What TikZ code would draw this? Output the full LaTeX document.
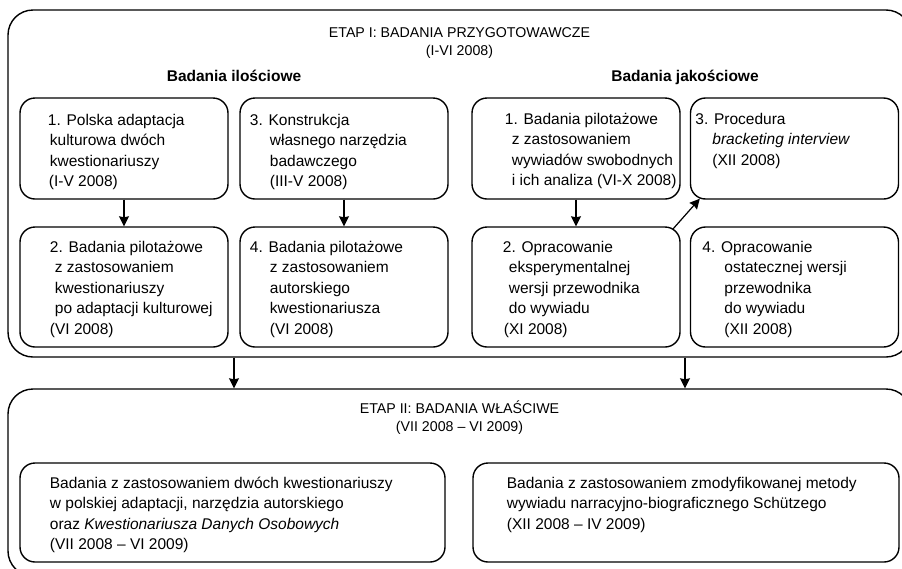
\documentclass[tikz,border=0pt]{standalone}
\usepackage{fontspec}
\setmainfont{Liberation Sans}
\usepackage{tikz}
\usetikzlibrary{arrows.meta}
\usetikzlibrary{positioning}
\newcommand{\lind}[1]{\hspace*{#1pt}}

\begin{document}
\begin{tikzpicture}[x=1pt,y=-1pt,-,>={Stealth[length=10pt,width=10pt,inset=1pt]},line width=1.2pt,
    etap box/.style={draw,rounded corners=25pt,line width=1.4pt,inner sep=0pt,minimum width=903pt},
    stage box/.style={draw,rounded corners=15pt,line width=1.4pt,inner sep=0pt,minimum width=208pt},
    box text/.style={anchor=north west,align=left,inner sep=0pt,font=\fontsize{15.5}{20.5}\selectfont},
    head text/.style={anchor=north,align=center,inner sep=0pt,font=\fontsize{14.2}{18}\selectfont},
    title text/.style={anchor=base,inner sep=0pt,font=\fontsize{15.5}{18}\selectfont\bfseries}]
      \useasboundingbox (0,0) rectangle (902,568);
      \clip (0,0) rectangle (902,568);

      % the two stages
      \node [etap box, minimum height=347pt] (etap1) at (459.5,183.5) {};
      \node [etap box, minimum height=187pt] (etap2) at (459.5,482.5) {};
      \node [head text] (etap1t) at (459.5,27) {ETAP I: BADANIA PRZYGOTOWAWCZE\\(I-VI 2008)};
      \node [head text] (etap2t) at (459.5,400) {ETAP II: BADANIA WŁAŚCIWE\\(VII 2008 – VI 2009)};
      \node [title text] (ilosc) at (234,81.5) {Badania ilościowe};
      \node [title text] (jakosc) at (685,81.5) {Badania jakościowe};

      \node [stage box, minimum height=101pt] (q1) at (124,148.5) {};
      \node [stage box, minimum height=101pt] (q3) at (344,148.5) {};
      \node [stage box, minimum height=101pt] (j1) at (576,148.5) {};
      \node [stage box, minimum height=101pt] (j3) at (794.5,148.5) {};
      \node [stage box, minimum height=120pt] (q2) at (124,287) {};
      \node [stage box, minimum height=120pt] (q4) at (344,287) {};
      \node [stage box, minimum height=120pt] (j2) at (576,287) {};
      \node [stage box, minimum height=120pt] (j4) at (794.5,287) {};
      \node [stage box, minimum height=99pt, minimum width=425pt] (b1) at (232.5,512.5) {};
      \node [stage box, minimum height=99pt, minimum width=426pt] (b2) at (686,512.5) {};

      \node [box text] (q1t) at ([shift={(28,16)}]q1.north west) {1. Polska adaptacja\\\lind{2}kulturowa dwóch\\\lind{2}kwestionariuszy\\\lind{1}(I-V 2008)};
      \node [box text] (q2t) at ([shift={(30,14)}]q2.north west) {2. Badania pilotażowe\\\lind{5}z zastosowaniem\\\lind{5}kwestionariuszy\\\lind{5}po adaptacji kulturowej\\(VI 2008)};
      \node [box text] (q3t) at ([shift={(10,16)}]q3.north west) {3. Konstrukcja\\\lind{20}własnego narzędzia\\\lind{20}badawczego\\\lind{20}(III-V 2008)};
      \node [box text] (q4t) at ([shift={(10,14)}]q4.north west) {4. Badania pilotażowe\\\lind{20}z zastosowaniem\\\lind{20}autorskiego\\\lind{20}kwestionariusza\\\lind{20}(VI 2008)};
      \node [box text] (j1t) at ([shift={(33,15)}]j1.north west) {1. Badania pilotażowe\\\lind{7}z zastosowaniem\\\lind{7}wywiadów swobodnych\\\lind{7}i ich analiza (VI-X 2008)};
      \node [box text] (j2t) at ([shift={(31,14)}]j2.north west) {2. Opracowanie\\\lind{6}eksperymentalnej\\\lind{6}wersji przewodnika\\\lind{6}do wywiadu\\\lind{1}(XI 2008)};
      \node [box text] (j3t) at ([shift={(5,15)}]j3.north west) {3. Procedura\\\lind{17}\textit{bracketing interview}\\\lind{17}(XII 2008)};
      \node [box text] (j4t) at ([shift={(12,14)}]j4.north west) {4. Opracowanie\\\lind{22}ostatecznej wersji\\\lind{22}przewodnika\\\lind{22}do wywiadu\\\lind{22}(XII 2008)};
      \node [box text] (b1t) at ([shift={(30,14)}]b1.north west) {Badania z zastosowaniem dwóch kwestionariuszy\\w polskiej adaptacji, narzędzia autorskiego\\oraz \textit{Kwestionariusza Danych Osobowych}\\(VII 2008 – VI 2009)};
      \node [box text] (b2t) at ([shift={(34,14)}]b2.north west) {Badania z zastosowaniem zmodyfikowanej metody\\wywiadu narracyjno-biograficznego Schützego\\(XII 2008 – IV 2009)};

      \draw[->] (q1) -- (q2);
      \draw[->] (q3) -- (q4);
      \draw[->] (j1) -- (j2);
      \draw[->] ([shift={(-8,3)}]j2.north east) -- ([shift={(10,-1)}]j3.south west);

      \draw[->] (ilosc |- etap1.south) -- (ilosc |- etap2.north);
      \draw[->] (jakosc |- etap1.south) -- (jakosc |- etap2.north);
    \end{tikzpicture}
\end{document}
